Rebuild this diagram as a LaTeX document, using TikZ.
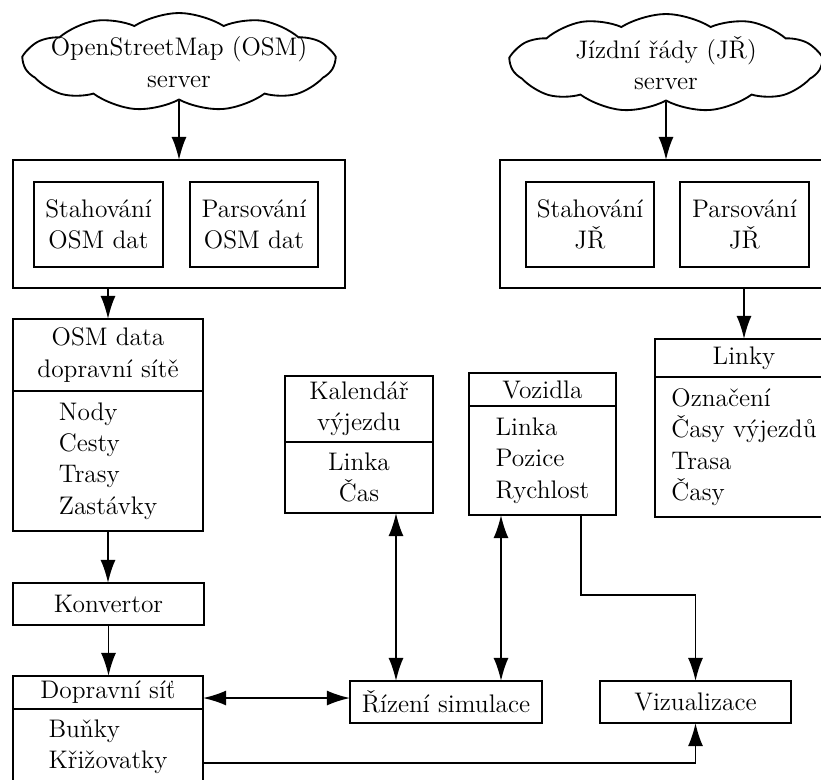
\documentclass[tikz,border=0pt]{standalone}
\usetikzlibrary{positioning,calc,shapes.symbols,arrows.meta}

\begin{document}
\begin{tikzpicture}[x=0.433pt, y=-0.433pt, thick,
  every node/.style={font=\fontsize{11}{13.6}\selectfont},
  box/.style 2 args={draw, rectangle, align=center, inner sep=0pt, outer sep=0pt,
    minimum width=#1*0.433pt, minimum height=#2*0.433pt},
  list/.style 2 args={box={#1}{#2}, align=left},
  srv/.style={draw, cloud, cloud puffs=11, cloud puff arc=65, cloud ignores aspect,
    align=center, inner xsep=-45pt, inner ysep=-10pt,
    minimum width=310*0.433pt, minimum height=98*0.433pt},
  >={Latex[length=10pt,width=6.5pt]}]
%\draw[help lines] (0,0) grid[step=50] (821,779);
\useasboundingbox (0,0) rectangle (821,779);

% servers
\node [srv] (osmsrv) at (179,62) {OpenStreetMap (OSM)\\server};
\node [srv] (jrsrv) at (666,63) {Jízdní řády (JŘ)\\server};

% download + parse
\node [box={332}{128}] (osmbox) at (179,224) {};
\node [box={129}{85}] (osmget) at (98.5,224.5) {Stahování\\OSM dat};
\node [box={128}{85}] (osmparse) at (254,224.5) {Parsování\\OSM dat};
\node [box={335}{128}] (jrbox) at (667.5,224) {};
\node [box={128}{85}] (jrget) at (590,224.5) {Stahování\\JŘ};
\node [box={129}{85}] (jrparse) at (744.5,224.5) {Parsování\\JŘ};

% data
\node [box={190}{72}] (osmT) at (108,355) {OSM data\\dopravní sítě};
\node [list={190}{140}, below=0pt of osmT] (osmB) {Nody\\Cesty\\Trasy\\Zastávky};
\node [box={178}{38}] (linkyT) at (744,358) {Linky};
\node [list={178}{140}, below=0pt of linkyT] (linkyB) {Označení\\Časy výjezdů\\Trasa\\Časy};
\node [box={148}{66}] (kalT) at (359,409) {Kalendář\\výjezdu};
\node [box={148}{71}, below=0pt of kalT] (kalB) {Linka\\Čas};
\node [box={147}{33}] (vozT) at (542.5,389.5) {Vozidla};
\node [list={147}{109}, below=0pt of vozT] (vozB) {Linka\\Pozice\\Rychlost};

\node [box={191}{42}] (konv) at (108.5,604) {Konvertor};
\node [box={190}{33}] (dopT) at (108,692.5) {Dopravní síť};
\node [list={190}{76}, below=0pt of dopT] (dopB) {Buňky\\Křižovatky};
\node [box={192}{42}] (riz) at (446,702) {Řízení simulace};
\node [box={191}{42}] (viz) at (695.5,702) {Vizualizace};

% arrows
\draw [->] (osmsrv.south) -- (osmbox.north);
\draw [->] (jrsrv.south) -- (jrsrv.south |- jrbox.north);
\draw [->] (osmbox.south -| osmT.north) -- (osmT.north);
\draw [->] (jrbox.south -| linkyT.north) -- (linkyT.north);
\draw [->] (osmB.south) -- (osmB.south |- konv.north);
\draw [->] (konv.south) -- (konv.south |- dopT.north);
\coordinate (rk) at ($(riz.north)+(-50,0)$);
\coordinate (rv) at ($(riz.north)+(55,0)$);
\draw [<->] (rk |- kalB.south) -- (rk);
\draw [<->] (rv |- vozB.south) -- (rv);
\draw [->] ($(vozB.south)+(38.5,0)$) -- ++(0,80) -| (viz.north);
\draw [<->] ($(dopT.east)+(0,5.5)$) coordinate (dr) -- (dr -| riz.west);
\draw [->] ($(dopB.east)+(0,16)$) -| (viz.south);

\end{tikzpicture}
\end{document}
